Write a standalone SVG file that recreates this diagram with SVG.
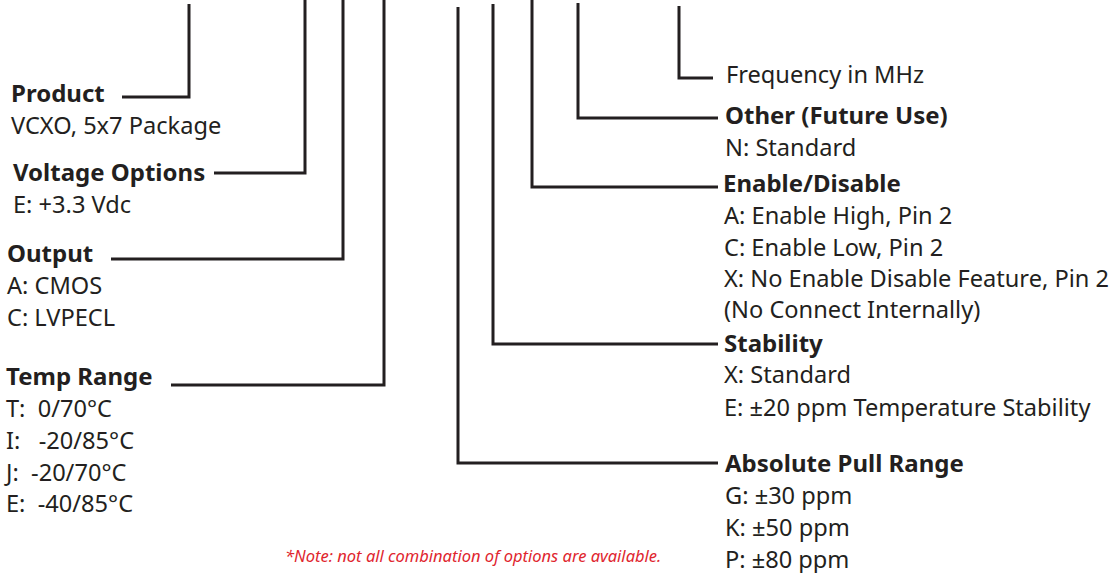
<svg xmlns="http://www.w3.org/2000/svg" width="1116" height="573" viewBox="0 0 1116 573">
<style>
.t{font-family:"Noto Sans","Open Sans",sans-serif;font-size:23.6px;fill:#231f20}
.b{font-weight:bold;font-size:24px}
.n{font-family:"Noto Sans","Open Sans",sans-serif;font-size:16.5px;font-style:italic;fill:#e0252e}
.c{fill:none;stroke:#231f20;stroke-width:3;stroke-linejoin:miter}
</style>
<rect width="1116" height="573" fill="#fff"/>
<g id="connectors">
<polyline class="c" points="189,4 189,97 122,97"/>
<polyline class="c" points="305,0 305,173 214,173"/>
<polyline class="c" points="343,0 343,259 111,259"/>
<polyline class="c" points="384,0 384,385 171,385"/>
<polyline class="c" points="458,7 458,463 718,463"/>
<polyline class="c" points="493,4 493,344 718,344"/>
<polyline class="c" points="532,0 532,187 718,187"/>
<polyline class="c" points="578,3 578,118 718,118"/>
<polyline class="c" points="679,6 679,78 713,78"/>
</g>
<g id="product">
<text class="t b" x="11" y="102">Product</text>
<text class="t" x="11" y="134">VCXO, 5x7 Package</text>
</g>
<g id="voltage">
<text class="t b" x="13" y="181">Voltage Options</text>
<text class="t" x="13" y="213">E: +3.3 Vdc</text>
</g>
<g id="output">
<text class="t b" x="7" y="262">Output</text>
<text class="t" x="7" y="294">A: CMOS</text>
<text class="t" x="7" y="326">C: LVPECL</text>
</g>
<g id="temp">
<text class="t b" x="6" y="385">Temp Range</text>
<text class="t" x="6" y="417" xml:space="preserve">T:  0/70°C</text>
<text class="t" x="6" y="449" xml:space="preserve">I:   -20/85°C</text>
<text class="t" x="6" y="481" xml:space="preserve">J:  -20/70°C</text>
<text class="t" x="6" y="512" xml:space="preserve">E:  -40/85°C</text>
</g>
<g id="frequency">
<text class="t" x="726" y="83">Frequency in MHz</text>
</g>
<g id="other">
<text class="t b" x="725" y="124">Other (Future Use)</text>
<text class="t" x="725" y="156">N: Standard</text>
</g>
<g id="enable">
<text class="t b" x="723" y="192">Enable/Disable</text>
<text class="t" x="724" y="224">A: Enable High, Pin 2</text>
<text class="t" x="724" y="256">C: Enable Low, Pin 2</text>
<text class="t" x="724" y="287">X: No Enable Disable Feature, Pin 2</text>
<text class="t" x="724" y="318">(No Connect Internally)</text>
</g>
<g id="stability">
<text class="t b" x="724" y="352">Stability</text>
<text class="t" x="724" y="383">X: Standard</text>
<text class="t" x="724" y="416">E: ±20 ppm Temperature Stability</text>
</g>
<g id="pull">
<text class="t b" x="725" y="472">Absolute Pull Range</text>
<text class="t" x="725" y="504">G: ±30 ppm</text>
<text class="t" x="725" y="536">K: ±50 ppm</text>
<text class="t" x="725" y="568">P: ±80 ppm</text>
</g>
<g id="note">
<text class="n" x="285" y="562">*Note: not all combination of options are available.</text>
</g>
</svg>
